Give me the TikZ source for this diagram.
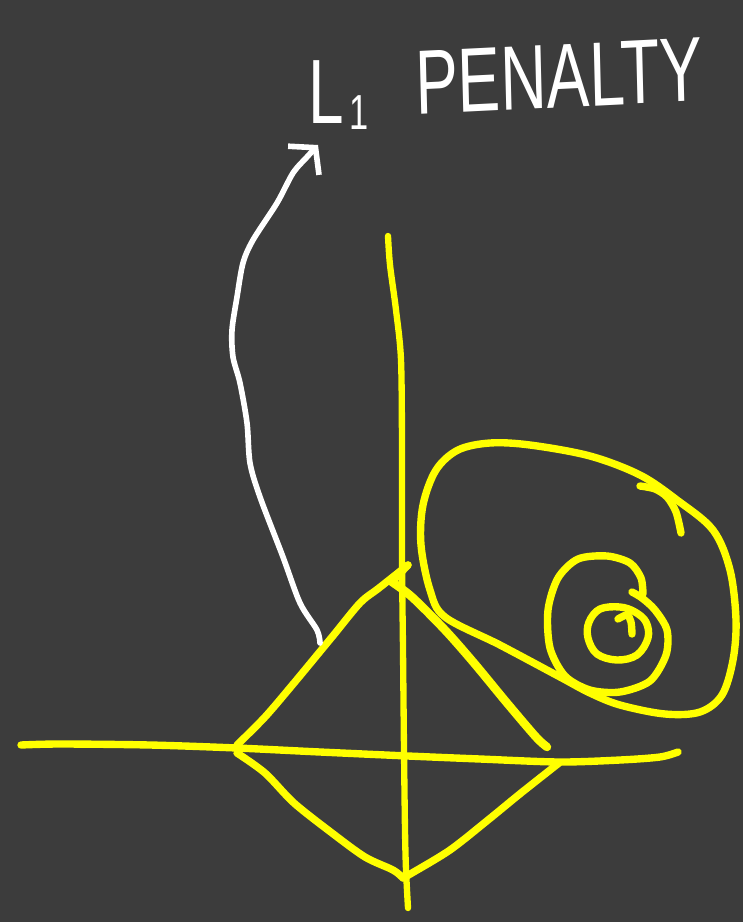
\documentclass[tikz,border=0pt]{standalone}
\usepackage{fontspec}
\usepackage{graphicx}
\usetikzlibrary{arrows.meta}
\newfontfamily\chalkfont{Liberation Sans}
\definecolor{boardgrey}{HTML}{3C3C3C}
\definecolor{markeryellow}{HTML}{FFFF00}
\definecolor{chalkwhite}{HTML}{FFFFFF}

\begin{document}
\begin{tikzpicture}[x=0.02cm,y=-0.02cm,line cap=round,line join=round,
  marker/.style={markeryellow,line width=4.2pt},
  chalk/.style={chalkwhite,line width=3.2pt},
  penaltyink/.style={text=chalkwhite,inner sep=0pt,xscale=0.7,
    font=\chalkfont\fontsize{52}{52}\selectfont}]
\path[use as bounding box] (0,0) rectangle (743,922);
\fill[boardgrey] (0,0) rectangle (743,922);
% axes
\draw[marker,line width=3.6pt] plot[smooth,tension=0.5] coordinates
  {(388,236) (390,265) (396,310) (401,360) (402,450) (402,560) (403,650) (404,750) (405,830) (406,870) (408,908)};
\draw[marker] plot[smooth,tension=0.5] coordinates
  {(21,745) (60,744) (150,745) (237,748) (320,752) (408,756) (480,759) (559,762) (620,760) (660,757) (678,752)};
% L1 ball (diamond)
\draw[marker] plot[smooth,tension=0.5] coordinates
  {(237,745) (265,717) (294,683) (332,637) (360,603) (379,588) (408,565)};
\draw[marker] (408,565) -- (392,582);
\draw[marker,line width=4.8pt] plot[smooth,tension=0.5] coordinates
  {(392,582) (412,597) (445,630) (474,663) (507,703) (536,737) (547,747)};
\draw[marker] plot[smooth,tension=0.5] coordinates
  {(237,753) (265,773) (294,803) (332,833) (365,857) (393,870) (403,878)};
\draw[marker] plot[smooth,tension=0.5] coordinates
  {(403,878) (412,873) (450,850) (488,820) (521,793) (559,763)};
% loss contours
\draw[marker] plot[smooth cycle,tension=0.55] coordinates
  {(445,617) (430,590) (421,545) (423,505) (436,470) (458,450) (490,443) (530,445)
   (590,456) (640,475) (677,500) (713,530) (730,570) (736,620) (733,660) (722,695)
   (700,712) (665,714) (620,705) (590,693) (560,677) (500,645)};
\draw[marker] plot[smooth,tension=0.5] coordinates
  {(640,486) (655,489) (667,497) (676,512) (681,533)};
\draw[marker] plot[smooth,tension=0.5] coordinates
  {(643,594) (641,578) (630,563) (607,556) (578,559) (558,578) (548,610) (550,648)
   (565,676) (590,690) (620,692) (650,681) (666,655) (667,630) (655,610) (642,598) (632,592)};
\draw[marker] plot[smooth cycle,tension=0.6] coordinates
  {(620,607) (600,609) (589,622) (588,638) (597,654) (617,660) (637,655) (648,638) (646,622) (635,612)};
\draw[marker] plot[smooth,tension=0.5] coordinates {(618,619) (627,615) (631,622) (632,634)};
% arrow to the label
\coordinate (arrowfoot) at (320,643);
\coordinate (arrowtip) at (318,145);
\draw[chalk,-{Straight Barb[length=10pt,width=24pt]}] plot[smooth,tension=0.5] coordinates
  {(arrowfoot) (317,630) (300,603) (283,557) (260,497) (250,463) (247,423) (240,383)
   (233,357) (232,330) (237,297) (243,263) (253,240) (277,203) (293,173) (307,157) (arrowtip)};
\node[penaltyink,anchor=base west] (lone) at (308,124)
  {L\hspace{5pt}\raisebox{-3pt}{\fontsize{28}{28}\selectfont 1}};
\node[penaltyink,anchor=base west,rotate=2] (penalty) at (416,115) {PENALTY};
\end{tikzpicture}
\end{document}
